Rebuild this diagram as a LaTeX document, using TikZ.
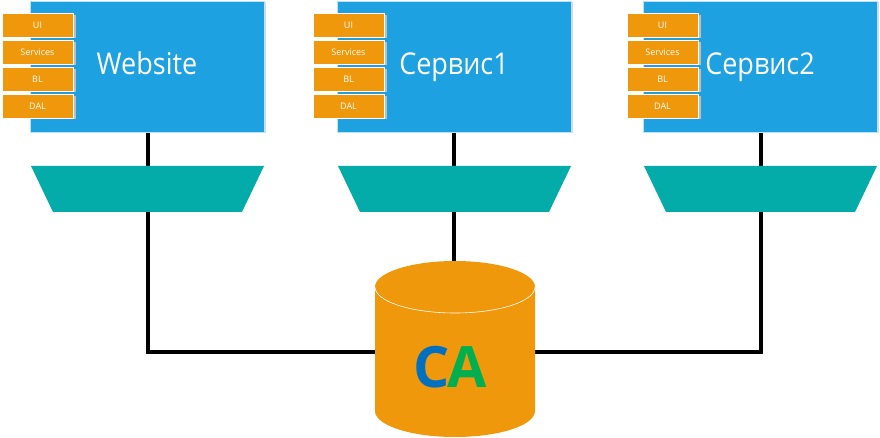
\documentclass[tikz,border=0pt]{standalone}
\usepackage{fontspec}
\setmainfont{Open Sans}
\newfontfamily\titlefont[FakeStretch=0.9]{Open Sans}
\definecolor{appblue}{RGB}{29,161,224}
\definecolor{layerorange}{RGB}{240,152,11}
\definecolor{gateteal}{RGB}{3,171,169}
\definecolor{caBlue}{RGB}{0,112,192}
\definecolor{caGreen}{RGB}{0,176,80}
\tikzset{
  appbox/.style={fill=appblue, draw=white!70!appblue, line width=0.6pt},
  layerbox/.style={fill=layerorange, draw=white, line width=0.6pt, minimum width=71pt, minimum height=24pt, inner sep=0pt, text=white, font=\fontsize{9}{10}\selectfont},
  gate/.style={fill=gateteal, draw=none},
  wire/.style={line width=3.5pt, black},
  apptitle/.style={text=white, anchor=base, inner sep=0pt, font=\titlefont\fontsize{30}{32}\selectfont},
}
\begin{document}
\begin{tikzpicture}[x=1pt,y=-1pt]
\useasboundingbox (0,0) rectangle (880,438);
% wires (behind)
\coordinate (j1) at (148,352);
\coordinate (j3) at (761,352);
\draw[wire] (148,132) -- (j1) -- (380,352);
\draw[wire] (761,132) -- (j3) -- (530,352);
\draw[wire] (454,132) -- (454,275);
% app boxes
\foreach \n/\x/\t in {1/30/Website,2/337/Сервис1,3/643/Сервис2}{
  \fill[gray!30] (\x+1.5,2.5) rectangle (\x+235.5,133.5);
  \draw[appbox] (\x,1) rectangle (\x+234,132);
  \node[apptitle] (t\n) at (\x+117,75) {\t};
  \path[gate] (\x+1,166) -- (\x+234,166) -- (\x+212,212) -- (\x+23,212) -- cycle;
}
% layers
\foreach \n/\x in {1/2,2/313,3/627}{
  \foreach \i/\l/\y in {a/UI/25,b/Services/52,c/BL/79,d/DAL/106}{
    \fill[black!25] (\x+2,\y-10) rectangle (\x+73.5,\y+13.5);
    \node[layerbox] (\n\i) at (\x+35.5,\y) {\l};
  }
}
% cylinder
\fill[layerorange] (375,287) -- (375,411) arc[start angle=180, end angle=0, x radius=80, y radius=26] -- (535,287) arc[start angle=0, end angle=-180, x radius=80, y radius=26] -- cycle;
\draw[white, line width=0.6pt] (375,287) arc[start angle=180, end angle=0, x radius=80, y radius=26];
\node[font=\fontsize{57}{60}\selectfont\bfseries, inner sep=0pt, anchor=base] (ca) at (450,387) {\textcolor{caBlue}{C}\kern-2pt\textcolor{caGreen}{A}};
\end{tikzpicture}
\end{document}
